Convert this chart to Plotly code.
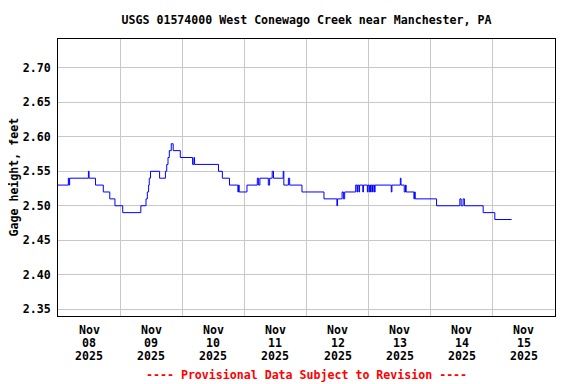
import plotly.graph_objects as go

# Gage height readings (step changes), USGS 01574000
times = [
    "2025-11-08 00:00", "2025-11-08 04:00", "2025-11-08 04:15", "2025-11-08 04:30",
    "2025-11-08 11:45", "2025-11-08 12:00", "2025-11-08 14:30", "2025-11-08 17:30",
    "2025-11-08 20:00", "2025-11-08 22:00", "2025-11-09 01:00", "2025-11-09 08:00",
    "2025-11-09 10:00", "2025-11-09 10:30", "2025-11-09 11:00", "2025-11-09 11:15",
    "2025-11-09 11:45", "2025-11-09 15:15", "2025-11-09 17:30", "2025-11-09 18:00",
    "2025-11-09 18:30", "2025-11-09 19:00", "2025-11-09 19:45", "2025-11-09 20:30",
    "2025-11-09 23:15", "2025-11-10 04:00", "2025-11-10 04:30", "2025-11-10 04:45",
    "2025-11-10 14:00", "2025-11-10 15:30", "2025-11-10 18:15", "2025-11-10 21:30",
    "2025-11-10 21:45", "2025-11-10 22:00", "2025-11-11 01:00", "2025-11-11 05:00",
    "2025-11-11 05:30", "2025-11-11 06:00", "2025-11-11 09:15", "2025-11-11 09:45",
    "2025-11-11 10:45", "2025-11-11 11:15", "2025-11-11 15:00", "2025-11-11 15:15",
    "2025-11-11 17:00", "2025-11-11 17:30", "2025-11-11 22:15", "2025-11-12 06:45",
    "2025-11-12 11:45", "2025-11-12 12:00", "2025-11-12 13:45", "2025-11-12 14:15",
    "2025-11-12 14:45", "2025-11-12 19:00", "2025-11-12 19:30", "2025-11-12 19:45",
    "2025-11-12 20:15", "2025-11-12 20:30", "2025-11-12 21:45", "2025-11-12 22:00",
    "2025-11-12 23:30", "2025-11-12 23:45", "2025-11-13 00:15", "2025-11-13 00:30",
    "2025-11-13 00:45", "2025-11-13 01:00", "2025-11-13 01:30", "2025-11-13 01:45",
    "2025-11-13 02:15", "2025-11-13 02:30", "2025-11-13 08:45", "2025-11-13 09:00",
    "2025-11-13 12:15", "2025-11-13 12:30", "2025-11-13 13:45", "2025-11-13 14:15",
    "2025-11-13 14:30", "2025-11-13 17:30", "2025-11-13 17:45", "2025-11-13 18:00",
    "2025-11-14 02:15", "2025-11-14 11:15", "2025-11-14 11:45", "2025-11-14 12:30",
    "2025-11-14 13:00", "2025-11-14 20:15", "2025-11-15 00:45", "2025-11-15 07:15",
]
gage_ft = [
    2.53, 2.54, 2.53, 2.54,
    2.55, 2.54, 2.53, 2.52,
    2.51, 2.50, 2.49, 2.50,
    2.51, 2.52, 2.53, 2.54,
    2.55, 2.54, 2.55, 2.56,
    2.57, 2.58, 2.59, 2.58,
    2.57, 2.56, 2.57, 2.56,
    2.55, 2.54, 2.53, 2.52,
    2.53, 2.52, 2.53, 2.54,
    2.53, 2.54, 2.53, 2.54,
    2.55, 2.54, 2.55, 2.53,
    2.54, 2.53, 2.52, 2.51,
    2.50, 2.51, 2.52, 2.51,
    2.52, 2.53, 2.52, 2.53,
    2.52, 2.53, 2.52, 2.53,
    2.52, 2.53, 2.52, 2.53,
    2.52, 2.53, 2.52, 2.53,
    2.52, 2.53, 2.52, 2.53,
    2.54, 2.53, 2.52, 2.53,
    2.52, 2.51, 2.52, 2.51,
    2.50, 2.51, 2.50, 2.51,
    2.50, 2.49, 2.48, 2.48,
]

day_noons = ["2025-11-%02d 12:00" % d for d in range(8, 16)]
month_labels = ["Nov"] * 8
day_numbers = ["%02d" % d for d in range(8, 16)]
year_labels = ["2025"] * 8
midnights = ["2025-11-%02d 00:00" % d for d in range(9, 16)]

FONT = "DejaVu Sans Mono"
FS = 11.6

def tfont(color="black"):
    return dict(family=FONT, size=FS, color=color, weight="bold")

fig = go.Figure()
fig.add_trace(go.Scatter(
    x=times, y=gage_ft, mode="lines", line=dict(color="#0000FF", width=1, shape="hv"),
    hoverinfo="x+y", showlegend=False,
))

annotations = [
    dict(text="Gage height, feet", textangle=-90, xref="paper", yref="paper",
         x=(13 - 58) / 497, y=0.5, xanchor="center", yanchor="middle",
         showarrow=False, font=tfont()),
    dict(text="---- Provisional Data Subject to Revision ----", xref="paper", yref="paper",
         x=0.5, y=-(375 - 316) / 277, xanchor="center", yanchor="middle",
         showarrow=False, font=tfont("#FF0000")),
]
for row, (labels, ypix) in enumerate([(month_labels, 330), (day_numbers, 343.3), (year_labels, 356)]):
    for xv, lab in zip(day_noons, labels):
        annotations.append(dict(text=lab, xref="x", yref="paper", x=xv,
                                y=-(ypix - 316) / 277, xanchor="center", yanchor="middle",
                                showarrow=False, font=tfont()))

fig.update_layout(
    width=568, height=376,
    margin=dict(l=50, r=21, t=31, b=68),
    paper_bgcolor="white", plot_bgcolor="white",
    font=tfont(),
    title=dict(text="USGS 01574000 West Conewago Creek near Manchester, PA",
               x=0.5, xref="paper", xanchor="center",
               y=1 - 12 / 376, yref="container", yanchor="middle",
               font=tfont()),
    xaxis=dict(
        range=["2025-11-08 00:00", "2025-11-16 00:00"],
        tickmode="array", tickvals=day_noons, showticklabels=False,
        ticks="", showgrid=False, zeroline=False,
        showline=True, linecolor="black", linewidth=1, mirror=True,
        minor=dict(tickmode="array", tickvals=midnights, showgrid=True,
                   gridcolor="#C8C8C8", gridwidth=1, ticks=""),
    ),
    yaxis=dict(
        range=[2.34, 2.742], tick0=2.35, dtick=0.05, tickformat=".2f",
        showgrid=True, gridcolor="#C8C8C8", gridwidth=1, zeroline=False,
        showline=True, linecolor="black", linewidth=1, mirror=True, ticks="",
        ticklabelstandoff=4, tickfont=tfont(),
    ),
    annotations=annotations,
)

fig.write_html("out.html")
